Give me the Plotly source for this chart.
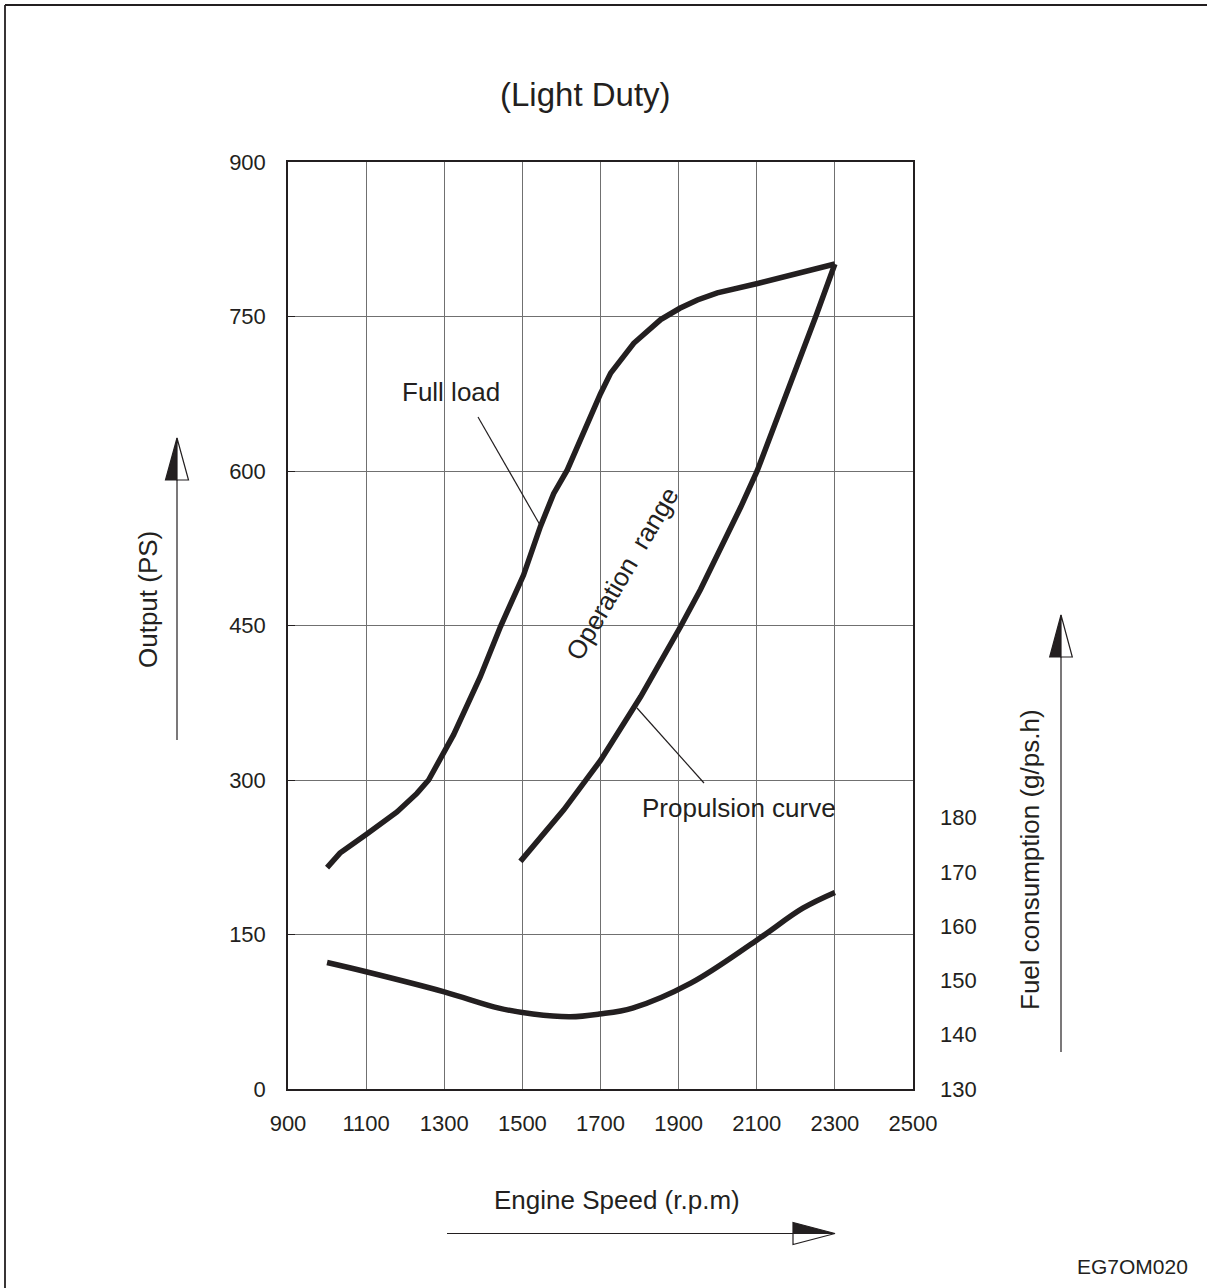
import plotly.graph_objects as go

# ---------------- data ----------------
full_rpm = [1000, 1033, 1100, 1179, 1230, 1260, 1324, 1392, 1444, 1503, 1546, 1580,
            1615, 1658, 1700, 1726, 1785, 1854, 1903, 1948, 1999, 2102, 2300]
full_ps = [215, 229, 247, 269, 287, 300, 344, 400, 449, 499, 546, 578,
           601, 640, 675, 695, 724, 747, 758, 766, 773, 782, 801]

prop_rpm = [1495, 1606, 1700, 1803, 1905, 1956, 2059, 2101, 2253, 2300]
prop_ps = [221, 271, 319, 381, 449, 485, 565, 600, 752, 801]

fuel_rpm = [1000, 1100, 1300, 1440, 1527, 1623, 1697, 1782, 1931, 2100, 2218, 2300]
fuel_g = [153.3, 151.6, 147.9, 144.9, 143.8, 143.3, 143.8, 144.9, 149.5, 157.4, 163.3, 166.2]

x_ticks = [900, 1100, 1300, 1500, 1700, 1900, 2100, 2300, 2500]
y_ticks = [0, 150, 300, 450, 600, 750, 900]
fuel_ticks = [130, 140, 150, 160, 170, 180]

title_text = "(Light Duty)"
x_title = "Engine Speed (r.p.m)"
y_title = "Output (PS)"
y2_title = "Fuel consumption (g/ps.h)"

# ---------------- layout helpers ----------------
W, H = 1207, 1288
L, R, T, B = 288, 913, 162, 1089
FONT = "Liberation Sans, Arial, Helvetica, sans-serif"
INK = "#231f20"


def px(x):
    return (x - L) / (R - L)


def py(y):
    return (B - y) / (B - T)


fig = go.Figure()
line_style = dict(color=INK, width=5.5)
fig.add_trace(go.Scatter(x=full_rpm, y=full_ps, mode="lines", line=line_style,
                         name="Full load"))
fig.add_trace(go.Scatter(x=prop_rpm, y=prop_ps, mode="lines", line=line_style,
                         name="Propulsion curve"))
fig.add_trace(go.Scatter(x=fuel_rpm, y=fuel_g, mode="lines", line=line_style,
                         line_shape="spline", yaxis="y2", name="Fuel consumption"))

fuel_top = 130 + (B - T) / 5.43

fig.update_layout(
    width=W, height=H,
    margin=dict(l=L, r=W - R, t=T, b=H - B),
    paper_bgcolor="white", plot_bgcolor="white",
    showlegend=False,
    font=dict(family=FONT, color=INK, size=23),
    xaxis=dict(range=[900, 2500], tickvals=x_ticks, showgrid=True,
               gridcolor="#707070", gridwidth=1, showline=True, linecolor=INK,
               linewidth=1.5, mirror=True, ticks="", zeroline=False,
               ticklabelstandoff=14, tickfont=dict(size=22)),
    yaxis=dict(range=[0, 900], tickvals=y_ticks, showgrid=True,
               gridcolor="#707070", gridwidth=1, showline=True, linecolor=INK,
               linewidth=1.5, mirror=True, ticks="inside", ticklen=7,
               tickcolor=INK, zeroline=False, ticklabelstandoff=16,
               tickfont=dict(size=22)),
    yaxis2=dict(range=[130, fuel_top], tickvals=fuel_ticks, overlaying="y",
                side="right", showgrid=False, showline=False, zeroline=False,
                ticks="", ticklabelstandoff=26, tickfont=dict(size=22)),
)

ann = []


def text(x, y, s, size=26, angle=0):
    ann.append(dict(x=px(x), y=py(y), xref="paper", yref="paper", text=s,
                    showarrow=False, xanchor="center", yanchor="middle",
                    textangle=angle, font=dict(family=FONT, size=size, color=INK)))


text(585, 95, title_text, size=33)
text(451, 392, "Full load")
text(739, 808, "Propulsion curve")
text(622, 574, "Operation\u00a0 range", angle=-59.5)
text(617, 1200, x_title)
text(148, 600, y_title, angle=-90)
text(1030, 860, y2_title, angle=-90)
text(1132, 1266, "EG7OM020", size=21)
fig.update_layout(annotations=ann)

shapes = []


def seg(x0, y0, x1, y1, w=1.2):
    shapes.append(dict(type="line", xref="paper", yref="paper",
                       x0=px(x0), y0=py(y0), x1=px(x1), y1=py(y1),
                       line=dict(color=INK, width=w)))


def path(points, fill):
    d = "M " + " L ".join(f"{px(a):.5f},{py(b):.5f}" for a, b in points) + " Z"
    shapes.append(dict(type="path", xref="paper", yref="paper", path=d,
                       fillcolor=fill, line=dict(color=INK, width=1.2)))


# leader lines
seg(478, 417, 540, 525)
seg(637, 708, 704, 783)

# left vertical arrow
seg(177, 740, 177, 470)
path([(177, 438), (165.5, 480), (177, 480)], INK)
path([(177, 438), (188.5, 480), (177, 480)], "white")

# right vertical arrow
seg(1061, 1052, 1061, 650)
path([(1061, 615), (1049.7, 657), (1061, 657)], INK)
path([(1061, 615), (1072.3, 657), (1061, 657)], "white")

# bottom horizontal arrow
seg(447, 1233.5, 800, 1233.5)
path([(835, 1233.5), (793, 1222.5), (793, 1233.5)], INK)
path([(835, 1233.5), (793, 1244.5), (793, 1233.5)], "white")

# page frame (top and left)
seg(5, 5, 1207, 5, w=1.8)
seg(5, 5, 5, 1288, w=1.8)

fig.update_layout(shapes=shapes)

fig.write_html("out.html")
